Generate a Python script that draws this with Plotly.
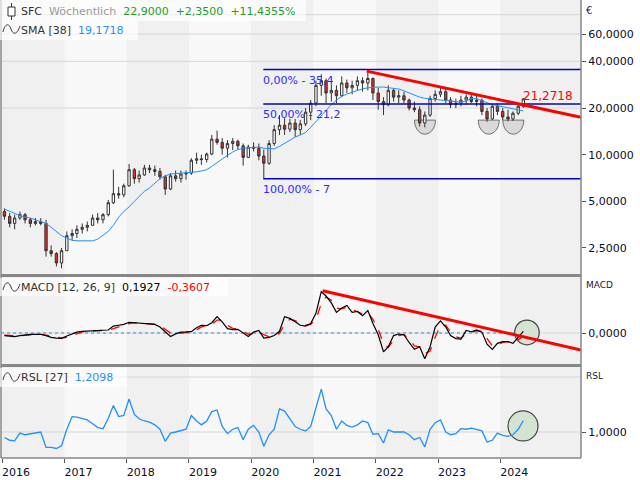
import math
import pandas as pd
import plotly.graph_objects as go

# ---------------- data (one reading per month) ----------------
start_month = "2016-01-01"
n_months = 101

opens = [4.3, 4.0, 3.6, 3.9, 4.1, 3.8, 3.6, 3.7, 3.6, 2.4, 2.3, 2.0,
         2.4, 3.0, 3.1, 3.3, 3.4, 3.5, 3.9, 3.8, 4.1, 4.9, 5.6, 5.5,
         6.3, 8.0, 7.0, 7.4, 8.2, 8.0, 7.8, 7.2, 6.0, 7.3, 7.0, 7.5,
         7.6, 9.2, 9.4, 9.3, 10.1, 12.6, 12.0, 11.0, 11.8, 12.2, 11.4, 9.6,
         11.2, 11.0, 9.8, 8.8, 11.8, 14.5, 15.5, 14.6, 16.0, 14.5, 15.8, 18.8,
         21.5, 28, 30, 25, 26, 24, 29, 27, 28, 30, 29, 31,
         25, 22, 21, 26, 23.5, 24, 22.5, 20, 19.5, 16, 18, 23,
         24.5, 25.5, 22.5, 21, 21.5, 22.5, 23.5, 22, 22.5, 19, 17, 20.5,
         19, 17.5, 17, 18.5, 20.5]
highs = [4.5, 4.2, 4.1, 4.3, 4.2, 3.9, 3.9, 3.9, 3.8, 2.6, 2.35, 2.5,
         3.2, 3.3, 3.5, 3.6, 3.7, 4.1, 4.2, 4.2, 5.1, 8.0, 6.2, 6.5,
         8.7, 8.2, 7.9, 8.6, 8.6, 8.5, 8.2, 7.4, 7.6, 7.9, 7.9, 7.9,
         9.5, 10.3, 10.0, 10.3, 13.4, 14.3, 12.8, 12.4, 12.8, 12.5, 11.8, 11.6,
         12.0, 11.8, 10.8, 12.4, 15.5, 18.0, 17.2, 17.0, 17.0, 16.7, 20.0, 22.5,
         30, 33, 31, 28.5, 28, 32, 30.5, 30, 32, 31.5, 35.4, 31.5,
         27, 23.5, 28, 26.5, 26, 25.5, 23, 22, 20.5, 19, 24, 26,
         27, 26.5, 23.5, 23, 24, 24.5, 24.8, 24, 23, 20, 21, 21.5,
         20, 19.5, 19, 21, 23.0]
lows = [3.8, 3.4, 3.3, 3.8, 3.6, 3.4, 3.5, 3.5, 2.2, 2.2, 1.9, 1.85,
        2.4, 2.8, 2.9, 3.1, 3.2, 3.5, 3.6, 3.6, 4.0, 4.8, 5.2, 5.3,
        6.2, 6.5, 6.6, 7.3, 7.6, 7.3, 6.9, 5.5, 5.9, 6.7, 6.6, 6.9,
        7.4, 8.7, 8.6, 8.9, 9.9, 11.6, 10.0, 9.6, 10.7, 10.8, 8.5, 9.5,
        10.5, 9.2, 7.0, 8.6, 11.4, 13.4, 13.4, 14.0, 13.0, 13.4, 15.3, 16.7,
        20.5, 24, 21.5, 22, 21.5, 23.5, 25, 24.5, 26, 25.5, 26, 22.5,
        19.5, 18, 20.5, 22, 21.5, 21.5, 19.3, 18.8, 15.2, 15, 17.5, 22,
        23.5, 21.5, 20, 20, 20.5, 21, 21.5, 20.5, 18, 16.3, 16.8, 18,
        16.7, 16.4, 16.5, 18, 20]
closes = [4.0, 3.6, 3.9, 4.1, 3.8, 3.6, 3.7, 3.6, 2.4, 2.3, 2.0, 2.4,
          3.0, 3.1, 3.3, 3.4, 3.5, 3.9, 3.8, 4.1, 4.9, 5.6, 5.5, 6.3,
          8.0, 7.0, 7.4, 8.2, 8.0, 7.8, 7.2, 6.0, 7.3, 7.0, 7.5, 7.6,
          9.2, 9.4, 9.3, 10.1, 12.6, 12.0, 11.0, 11.8, 12.2, 11.4, 9.6, 11.2,
          11.0, 9.8, 8.8, 11.8, 14.5, 15.5, 14.6, 16.0, 14.5, 15.8, 18.8, 21.5,
          28, 30, 25, 26, 24, 29, 27, 28, 30, 29, 31, 25,
          22, 21, 26, 23.5, 24, 22.5, 20, 19.5, 16, 18, 23, 24.5,
          25.5, 22.5, 21, 21.5, 22.5, 23.5, 22, 22.5, 19, 17, 20.5, 19,
          17.5, 17, 18.5, 20.5, 22.9]
sma38 = [4.45, 4.3, 4.15, 4.05, 3.95, 3.9, 3.8, 3.7, 3.6, 3.4, 3.2, 3.0,
         2.9, 2.8, 2.78, 2.77, 2.77, 2.78, 2.85, 3.0, 3.2, 3.5, 3.95, 4.3,
         4.6, 5.0, 5.4, 5.8, 6.1, 6.5, 7.0, 7.3, 7.5, 7.55, 7.6, 7.6,
         7.65, 7.75, 7.85, 8.0, 8.4, 8.9, 9.4, 9.9, 10.4, 10.8, 11.0, 11.1,
         11.2, 11.2, 11.0, 10.9, 10.9, 11.3, 11.8, 12.4, 13.0, 13.4, 13.9, 15.0,
         16.4, 17.8, 19.5, 21.0, 22.5, 23.8, 24.6, 25.3, 26.0, 26.6, 27.0, 27.2,
         27.3, 27.3, 27.1, 26.9, 26.5, 25.8, 25.0, 24.2, 23.5, 23.1, 22.9, 22.8,
         22.7, 22.5, 22.3, 22.0, 21.8, 22.2, 23.0, 23.0, 22.3, 21.5, 21.0, 20.7,
         20.4, 20.1, 19.7, 19.4, 19.17]
macd_line = [-0.3, -0.4, -0.42, -0.3, -0.2, -0.15, -0.15, -0.15, -0.3, -0.5, -0.6, -0.62,
             -0.35, -0.12, 0.1, 0.2, 0.25, 0.27, 0.3, 0.32, 0.35, 0.8, 0.9, 1.0,
             1.25, 1.2, 1.1, 1.1, 1.05, 1.0, 0.7, 0.1, -0.4, -0.1, 0.1, 0.12,
             0.16, 0.6, 0.9, 0.85, 1.2, 1.9, 1.3, 0.5, 0.4, 0.43, 0.0, -0.4,
             0.1, 0.3, -0.6, -0.5, -0.3, 0.2, 1.9, 1.7, 1.3, 0.9, 0.8, 1.1,
             2.3, 4.8, 4.3, 3.5, 2.4, 2.9, 3.2, 2.4, 2.5, 2.0, 2.6, 1.1,
             -0.2, -2.2, -1.6, -0.3, -0.12, -0.2, -1.1, -1.9, -1.6, -3.0, -1.6, 0.7,
             1.4, 0.7, -0.3, -0.65, -0.7, 0.3, 0.15, 0.35, 0.1, -1.3, -1.9, -1.2,
             -1.0, -1.0, -1.2, -0.5, 0.19]
macd_signal = [-0.25, -0.3, -0.35, -0.35, -0.28, -0.2, -0.17, -0.15, -0.2, -0.33, -0.48, -0.58,
               -0.5, -0.3, -0.05, 0.12, 0.2, 0.25, 0.28, 0.3, 0.33, 0.5, 0.75, 0.9,
               1.1, 1.18, 1.15, 1.1, 1.07, 1.02, 0.85, 0.45, 0.0, -0.1, 0.0, 0.08,
               0.12, 0.35, 0.7, 0.85, 1.0, 1.5, 1.5, 0.9, 0.55, 0.45, 0.2, -0.15,
               -0.05, 0.15, -0.2, -0.45, -0.35, -0.05, 1.0, 1.6, 1.45, 1.1, 0.9, 1.0,
               1.6, 3.4, 4.2, 3.8, 2.9, 2.8, 3.0, 2.7, 2.5, 2.2, 2.4, 1.6,
               0.4, -1.2, -1.7, -0.8, -0.3, -0.2, -0.7, -1.5, -1.6, -2.4, -2.1, -0.5,
               0.9, 0.9, 0.1, -0.45, -0.6, -0.1, 0.1, 0.25, 0.2, -0.7, -1.5, -1.4,
               -1.1, -1.0, -1.1, -0.8, -0.3607]
rsl27 = [0.9, 0.85, 0.84, 0.98, 0.95, 0.97, 0.99, 1.0, 0.72, 0.72, 0.7, 0.75,
         1.05, 1.28, 1.27, 1.25, 1.22, 1.15, 1.08, 1.06, 1.25, 1.48, 1.28, 1.3,
         1.6, 1.32, 1.24, 1.2, 1.18, 1.13, 1.05, 0.83, 0.98, 1.0, 1.02, 1.05,
         1.3, 1.2, 1.13, 1.2, 1.37, 1.4, 1.1, 0.97, 1.05, 1.08, 0.86, 1.05,
         1.12, 1.0, 0.74, 0.95, 1.05, 1.42, 1.38, 1.25, 1.1, 1.05, 1.02, 1.1,
         1.45, 1.78, 1.42, 1.3, 1.05, 1.2, 1.12, 1.09, 1.13, 1.2, 1.17, 0.96,
         0.97, 0.8, 1.04, 1.0, 1.0, 1.0, 0.95, 0.86, 0.9, 0.73, 1.05, 1.17,
         1.22, 1.0, 0.95, 0.97, 1.06, 1.05, 1.07, 1.04, 1.02, 0.82, 0.85, 0.98,
         0.94, 0.92, 0.95, 1.05, 1.2098]

price_ticks = [2.5, 5, 10, 20, 40, 60]
price_tick_text = ["2,5000", "5,0000", "10,0000", "20,0000", "40,0000", "60,0000"]
price_grid = [20, 40, 60, 80]
macd_ticks = [0]
macd_tick_text = ["0,0000"]
rsl_ticks = [1.0]
rsl_tick_text = ["1,0000"]
rsl_grid = [1.0, 2.0]
years = ["2016", "2017", "2018", "2019", "2020", "2021", "2022", "2023", "2024"]

fib_start = "2020-03-12"
fib_levels = [35.4, 21.2, 7.0]
fib_labels = ["0,00% - 35,4", "50,00% - 21,2", "100,00% - 7"]

trend_dates = ["2021-11-09", "2025-04-18"]
trend_vals = [34.6, 17.4]
trend_label_value = 21.2718
macd_trend_dates = ["2021-02-23", "2025-04-18"]
macd_trend_vals = [4.92, -1.98]

bowl_dates = ["2022-10-16", "2023-10-25", "2024-03-17"]
bowl_level = 16.7
macd_circle = ("2024-06-05", 0.06)
rsl_circle = ("2024-05-13", 1.11)

x_range = ["2015-12-26", "2025-04-18"]

# ---------------- figure ----------------
dates = (pd.date_range(start_month, periods=n_months, freq="MS") + pd.Timedelta(days=14)).strftime("%Y-%m-%d").tolist()

FONT = "DejaVu Sans"
BLUE = "#1e90ff"
W, H, L = 580, 458, 1


def px(x):
    return (x - L) / W


def py(y):
    return (H - y) / H


fig = go.Figure()

fig.add_trace(go.Candlestick(
    x=dates, open=opens, high=highs, low=lows, close=closes,
    xaxis="x", yaxis="y",
    increasing=dict(line=dict(color="#333333", width=1), fillcolor="#ffffff"),
    decreasing=dict(line=dict(color="#333333", width=1), fillcolor="#e0301e"),
    whiskerwidth=0, hoverinfo="skip", showlegend=False))

fig.add_trace(go.Scatter(x=dates, y=sma38, mode="lines", line=dict(color=BLUE, width=1),
                         xaxis="x", yaxis="y", showlegend=False, hoverinfo="skip"))

for lvl in fib_levels:
    fig.add_trace(go.Scatter(x=[fib_start, x_range[1]], y=[lvl, lvl], mode="lines",
                             line=dict(color="#0000d0", width=1.5), xaxis="x", yaxis="y",
                             showlegend=False, hoverinfo="skip"))

fig.add_trace(go.Scatter(x=trend_dates, y=trend_vals, mode="lines", line=dict(color="#ff0000", width=3),
                         xaxis="x", yaxis="y", showlegend=False, hoverinfo="skip"))

fig.add_trace(go.Scatter(x=dates, y=macd_signal, mode="lines", line=dict(color="#ff0000", width=1.3, dash="dash"),
                         xaxis="x", yaxis="y2", showlegend=False, hoverinfo="skip"))
fig.add_trace(go.Scatter(x=dates, y=macd_line, mode="lines", line=dict(color="#000000", width=1.2),
                         xaxis="x", yaxis="y2", showlegend=False, hoverinfo="skip"))
fig.add_trace(go.Scatter(x=macd_trend_dates, y=macd_trend_vals, mode="lines", line=dict(color="#ff0000", width=3),
                         xaxis="x", yaxis="y2", showlegend=False, hoverinfo="skip"))

fig.add_trace(go.Scatter(x=dates, y=rsl27, mode="lines", line=dict(color=BLUE, width=1.3),
                         xaxis="x", yaxis="y3", showlegend=False, hoverinfo="skip"))

shapes = []
# alternating year bands
for yr in range(2016, 2025):
    if yr % 2 == 0:
        x1 = f"{yr + 1}-01-01" if yr < 2024 else x_range[1]
        shapes.append(dict(type="rect", xref="x", yref="paper", x0=f"{yr}-01-01", x1=x1, y0=0, y1=1,
                           fillcolor="#f0f0f0", line=dict(width=0), layer="below"))
# grid lines
for g in price_grid:
    shapes.append(dict(type="line", xref="paper", yref="y", x0=0, x1=1, y0=g, y1=g,
                       line=dict(color="#d6d6d6", width=1), layer="below"))
for g in macd_ticks:
    shapes.append(dict(type="line", xref="paper", yref="y2", x0=0, x1=1, y0=g, y1=g,
                       line=dict(color="#d6d6d6", width=1), layer="below"))
for g in rsl_grid:
    shapes.append(dict(type="line", xref="paper", yref="y3", x0=0, x1=1, y0=g, y1=g,
                       line=dict(color="#d6d6d6", width=1), layer="below"))
shapes.append(dict(type="line", xref="x", yref="y2", x0=x_range[0], x1=dates[-1], y0=0, y1=0,
                   line=dict(color=BLUE, width=1, dash="dot"), layer="below"))
# bowls under the price lows
bowl_path = "M -10.5,0 C -10.5,-7.7 -5.8,-14 0,-14 C 5.8,-14 10.5,-7.7 10.5,0 Z"
for d in bowl_dates:
    shapes.append(dict(type="path", xref="x", yref="y", xsizemode="pixel", ysizemode="pixel",
                       xanchor=d, yanchor=bowl_level, path=bowl_path,
                       fillcolor="#d9d9d9", line=dict(color="#707070", width=1), layer="below"))
# circles in indicator panels
for (d, v), yref, r in [(macd_circle, "y2", 12.3), (rsl_circle, "y3", 15)]:
    shapes.append(dict(type="circle", xref="x", yref=yref, xsizemode="pixel", ysizemode="pixel",
                       xanchor=d, yanchor=v, x0=-r, x1=r, y0=-r, y1=r,
                       fillcolor="#d5e3d3", line=dict(color="#444444", width=1.2), layer="below"))
# panel separators and borders
for yy in [275.5, 365.5]:
    shapes.append(dict(type="line", xref="paper", yref="paper", x0=0, x1=1, y0=py(yy), y1=py(yy),
                       line=dict(color="#878787", width=3), layer="above"))
shapes.append(dict(type="line", xref="paper", yref="paper", x0=1, x1=1, y0=0, y1=1,
                   line=dict(color="#878787", width=1.5), layer="above"))
shapes.append(dict(type="line", xref="paper", yref="paper", x0=0, x1=0, y0=0, y1=1,
                   line=dict(color="#878787", width=1.5), layer="above"))
shapes.append(dict(type="line", xref="paper", yref="paper", x0=0, x1=1, y0=0, y1=0,
                   line=dict(color="#878787", width=1.5), layer="above"))
# header boxes
for (x0, y0, x1, y1) in [(0, 0, 306, 21), (0, 21, 138, 40), (0, 278, 228, 296), (0, 368, 127, 387)]:
    shapes.append(dict(type="rect", xref="paper", yref="paper", x0=px(x0), x1=px(x1), y0=py(y1), y1=py(y0),
                       fillcolor="rgba(255,255,255,0.65)", line=dict(width=0), layer="above"))
# candle icon
shapes.append(dict(type="line", xref="paper", yref="paper", xsizemode="pixel", ysizemode="pixel",
                   xanchor=0, yanchor=1, x0=10.5, x1=10.5, y0=-3, y1=-20,
                   line=dict(color="#333333", width=1), layer="above"))
shapes.append(dict(type="rect", xref="paper", yref="paper", xsizemode="pixel", ysizemode="pixel",
                   xanchor=0, yanchor=1, x0=7, x1=14, y0=-7, y1=-16,
                   fillcolor="#ffffff", line=dict(color="#333333", width=1), layer="above"))
# wave icons
for yc in [29, 287, 377]:
    path = (f"M 2,{-(yc + 3)} C 4,{-(yc - 6)} 8,{-(yc - 6)} 10,{-yc} "
            f"C 12,{-(yc + 6)} 16,{-(yc + 6)} 19,{-(yc - 3)}")
    shapes.append(dict(type="path", xref="paper", yref="paper", xsizemode="pixel", ysizemode="pixel",
                       xanchor=0, yanchor=1, path=path, line=dict(color="#333333", width=1), layer="above"))

NB = "\u00a0\u00a0"
GREEN = "#1e9e1e"
annotations = [
    dict(text=f"SFC{NB}<span style='color:#9a9a9a'>Wöchentlich</span>{NB}"
              f"<span style='color:{GREEN}'>22,9000</span>{NB}<span style='color:{GREEN}'>+2,3500</span>{NB}"
              f"<span style='color:{GREEN}'>+11,4355%</span>",
         x=px(19), y=py(11), xanchor="left", yanchor="middle"),
    dict(text=f"SMA [38]{NB}<span style='color:{BLUE}'>19,1718</span>",
         x=px(19), y=py(30), xanchor="left", yanchor="middle"),
    dict(text=f"MACD [12, 26, 9]{NB}<span style='color:#000000'>0,1927</span>{NB}"
              f"<span style='color:#ff0000'>-0,3607</span>",
         x=px(19), y=py(287), xanchor="left", yanchor="middle"),
    dict(text=f"RSL [27]{NB}<span style='color:{BLUE}'>1,2098</span>",
         x=px(19), y=py(377), xanchor="left", yanchor="middle"),
    dict(text="€", x=px(584), y=py(10), xanchor="left", yanchor="middle", font=dict(size=10, color="#1a2040")),
    dict(text="MACD", x=px(584), y=py(285), xanchor="left", yanchor="middle", font=dict(size=9, color="#1a2040")),
    dict(text="RSL", x=px(584), y=py(376), xanchor="left", yanchor="middle", font=dict(size=9, color="#1a2040")),
]
for a in annotations:
    a.update(xref="paper", yref="paper", showarrow=False)
    a.setdefault("font", dict(size=11, color="#333333"))

for lvl, lab in zip(fib_levels, fib_labels):
    annotations.append(dict(text=lab, xref="x", yref="y", x=fib_start, y=math.log10(lvl),
                            xanchor="left", yanchor="top", yshift=-2, xshift=-2, showarrow=False,
                            font=dict(size=11, color="#2a2aff")))
annotations.append(dict(text=f"{trend_label_value:.4f}".replace(".", ","), xref="x", yref="y",
                        x=dates[-1], y=math.log10(trend_label_value), xanchor="left", yanchor="bottom",
                        xshift=-2, yshift=-1, showarrow=False, font=dict(size=12, color="#ff0000")))

tickfont = dict(family=FONT, size=11, color="#0a0a2a")
fig.update_layout(
    width=640, height=480,
    margin=dict(l=L, r=640 - L - W, t=0, b=480 - H),
    paper_bgcolor="#ffffff", plot_bgcolor="#f8f8f8",
    font=dict(family=FONT, size=11, color="#333333"),
    showlegend=False, hovermode=False,
    shapes=shapes, annotations=annotations,
    xaxis=dict(domain=[0, 1], anchor="y3", type="date", range=x_range,
               tickvals=[f"{y}-01-01" for y in years], ticktext=years,
               ticks="outside", ticklen=4, tickcolor="#555555", ticklabelshift=14,
               showgrid=False, zeroline=False, showline=False, tickfont=tickfont,
               rangeslider=dict(visible=False)),
    yaxis=dict(domain=[py(275), 1], anchor="x", side="right", type="log",
               range=[0.2236, 1.9978], tickvals=price_ticks, ticktext=price_tick_text,
               ticks="outside", ticklen=4, tickcolor="#555555", showgrid=False, zeroline=False,
               showline=False, tickfont=tickfont),
    yaxis2=dict(domain=[py(364), py(278)], anchor="x", side="right",
                range=[-3.605, 6.395], tickvals=macd_ticks, ticktext=macd_tick_text,
                ticks="outside", ticklen=4, tickcolor="#555555", showgrid=False, zeroline=False,
                showline=False, tickfont=tickfont),
    yaxis3=dict(domain=[0, py(367)], anchor="x", side="right",
                range=[0.5273, 2.1818], tickvals=rsl_ticks, ticktext=rsl_tick_text,
                ticks="outside", ticklen=4, tickcolor="#555555", showgrid=False, zeroline=False,
                showline=False, tickfont=tickfont),
)

fig.write_html("out.html", config={"displayModeBar": False, "staticPlot": True},
               post_script="document.body.style.margin='0';document.body.style.overflow='hidden';")
